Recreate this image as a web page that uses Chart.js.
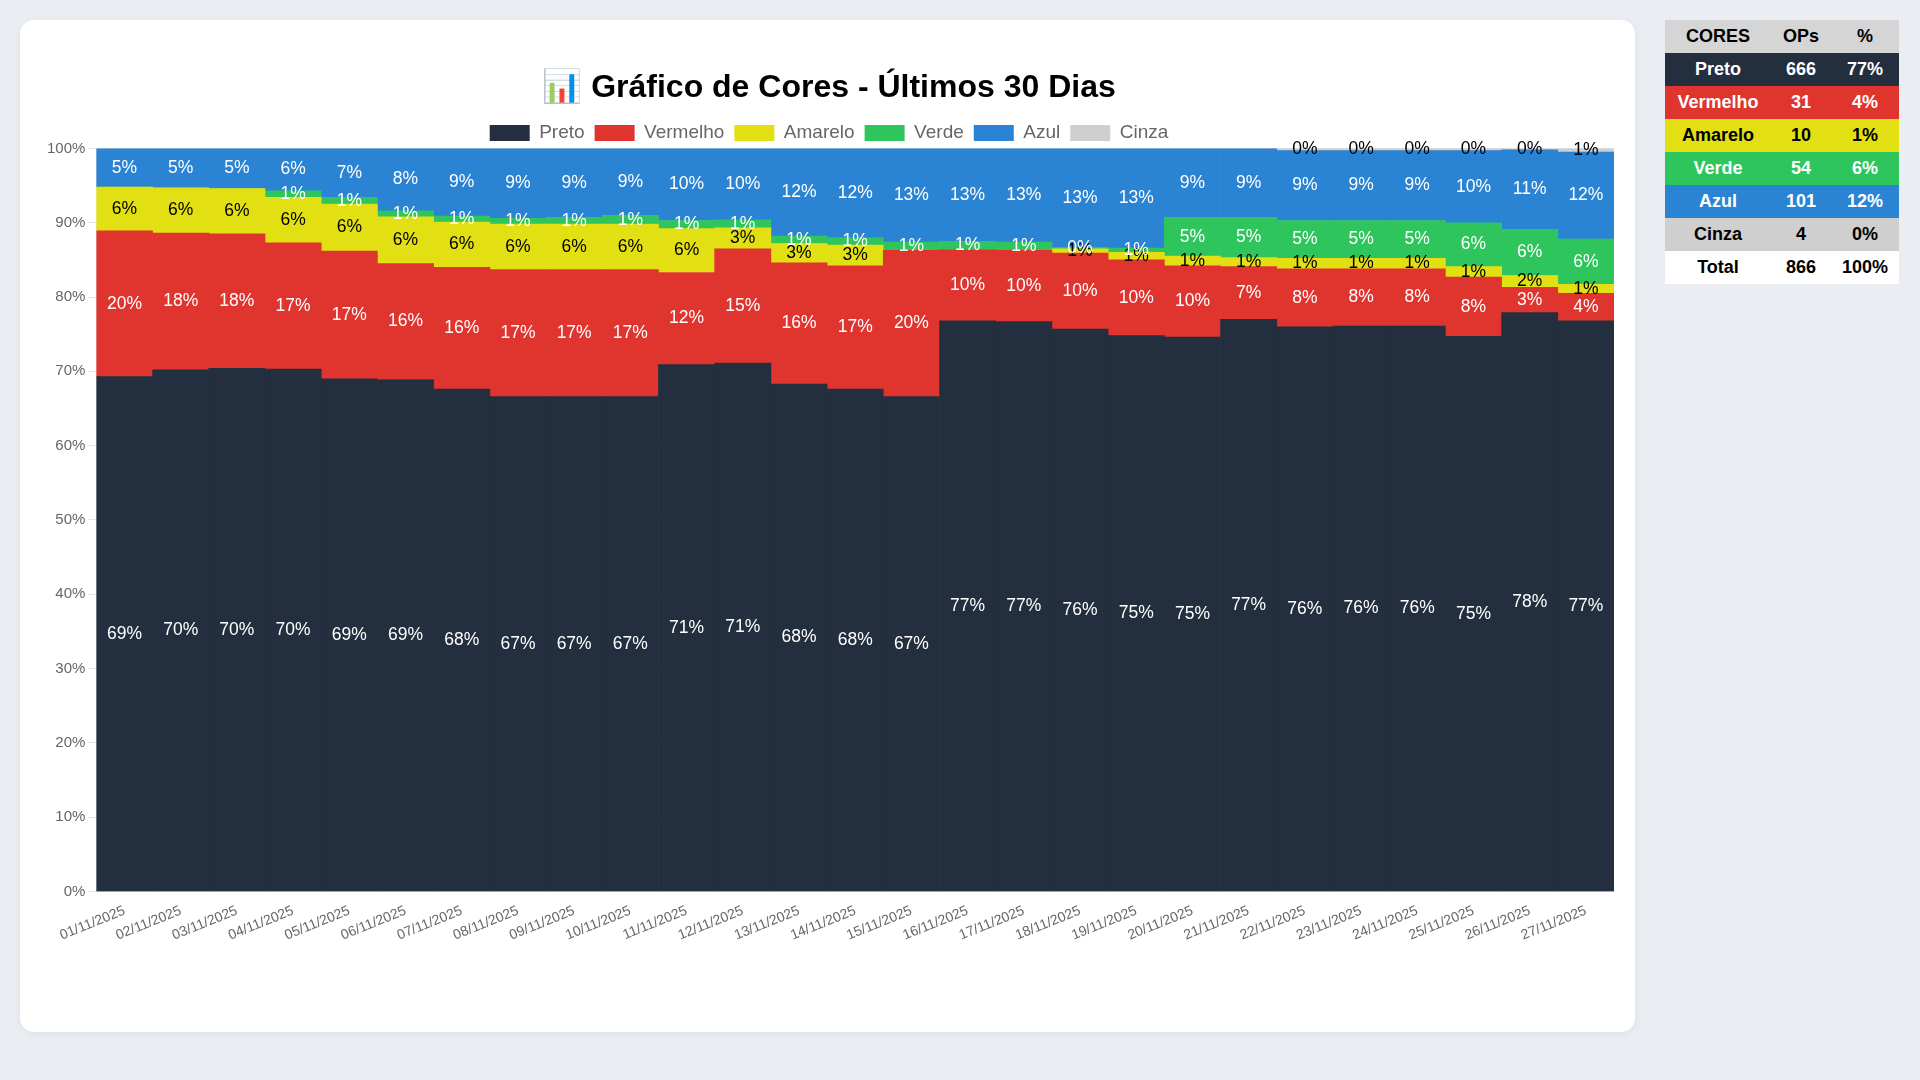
<!DOCTYPE html>
<html lang="pt-BR">
<head>
<meta charset="utf-8">
<title>Gráfico de Cores</title>
<script src="https://cdn.jsdelivr.net/npm/chart.js@4.4.1/dist/chart.umd.min.js"></script>
<style>
    body {
        margin: 0;
        width: 1920px;
        height: 1080px;
        background: #eaedf1;
        font-family: "Liberation Sans", Arial, sans-serif;
        position: relative;
        overflow: hidden;
    }
    .card {
        position: absolute;
        left: 20px;
        top: 20px;
        width: 1615px;
        height: 1012px;
        background: #fff;
        border-radius: 14px;
        box-shadow: 0 2px 8px rgba(0, 0, 0, 0.06);
    }
    .chart-box {
        position: absolute;
        left: 20px;
        top: 20px;
        width: 1575px;
        height: 940px;
    }
    .resumo {
        position: absolute;
        left: 1665px;
        top: 20px;
        width: 234px;
        border-collapse: collapse;
        font-weight: bold;
        font-size: 18px;
        text-align: center;
    }
    .resumo td, .resumo th {
        height: 33px;
        padding: 0;
    }
</style>
</head>
<body>
<div class="card">
    <div class="chart-box"><canvas id="coresChart"></canvas></div>
</div>
<table class="resumo" id="resumo"></table>

<script>
// dias do periodo
var dias = [
    "01/11/2025", "02/11/2025", "03/11/2025", "04/11/2025", "05/11/2025", "06/11/2025",
    "07/11/2025", "08/11/2025", "09/11/2025", "10/11/2025", "11/11/2025", "12/11/2025",
    "13/11/2025", "14/11/2025", "15/11/2025", "16/11/2025", "17/11/2025", "18/11/2025",
    "19/11/2025", "20/11/2025", "21/11/2025", "22/11/2025", "23/11/2025", "24/11/2025",
    "25/11/2025", "26/11/2025", "27/11/2025"
];

// % por dia de cada cor
var preto = [69.3, 70.2, 70.4, 70.3, 69.0, 68.9, 67.6, 66.6, 66.6, 66.6, 70.9, 71.1, 68.3, 67.6,
    66.6, 76.8, 76.7, 75.7, 74.8, 74.6, 77.0, 76.0, 76.1, 76.1, 74.7, 77.9, 76.8];
var vermelho = [19.6, 18.4, 18.1, 17.0, 17.2, 15.6, 16.4, 17.1, 17.1, 17.1, 12.4, 15.4, 16.3, 16.6,
    19.7, 9.6, 9.6, 10.2, 10.2, 9.6, 7.1, 7.8, 7.7, 7.7, 8.0, 3.4, 3.7];
var amarelo = [5.9, 6.1, 6.1, 6.1, 6.3, 6.3, 6.1, 6.1, 6.1, 6.1, 5.9, 2.8, 2.6, 2.8,
    0, 0, 0, 0.6, 1.0, 1.3, 1.2, 1.4, 1.4, 1.4, 1.4, 1.6, 1.2];
var verde = [0, 0, 0, 0.9, 0.9, 0.8, 0.8, 0.8, 0.9, 1.2, 1.1, 1.1, 1.0, 1.0,
    1.1, 1.1, 1.1, 0.2, 0.6, 5.2, 5.4, 5.1, 5.1, 5.1, 5.9, 6.2, 6.1];
var azul = [5.2, 5.3, 5.4, 5.7, 6.6, 8.4, 9.1, 9.4, 9.3, 9.0, 9.7, 9.6, 11.8, 12.0,
    12.6, 12.5, 12.6, 13.3, 13.4, 9.3, 9.3, 9.4, 9.4, 9.4, 9.7, 10.7, 11.7];
var cinza = [0, 0, 0, 0, 0, 0, 0, 0, 0, 0, 0, 0, 0, 0,
    0, 0, 0, 0, 0, 0, 0, 0.3, 0.3, 0.3, 0.3, 0.2, 0.5];

// totais da tabela
var nomesCores = ["Preto", "Vermelho", "Amarelo", "Verde", "Azul", "Cinza"];
var totalOps = [666, 31, 10, 54, 101, 4];

var corFundo = ["#232e3e", "#e0342f", "#e2e013", "#2dc55c", "#2b84d3", "#cfcfcf"];
var corTexto = ["#fff", "#fff", "#000", "#fff", "#fff", "#000"];

var series = [preto, vermelho, amarelo, verde, azul, cinza];

var fonte = "'Liberation Sans', Arial, sans-serif";

//rotulos de % dentro das barras
var rotulosPlugin = {
    id: "rotulos",
    afterDatasetsDraw(chart) {
        var ctx = chart.ctx;
        ctx.save();
        ctx.font = "17.5px " + fonte;
        ctx.textAlign = "center";
        ctx.textBaseline = "middle";
        chart.data.datasets.forEach((ds, i) => {
            var meta = chart.getDatasetMeta(i);
            meta.data.forEach((bar, j) => {
                var v = ds.data[j];
                if (!v) return;
                ctx.fillStyle = corTexto[i];
                ctx.fillText(Math.round(v) + "%", bar.x, (bar.y + bar.base) / 2);
            });
        });
        ctx.restore();
    }
};

var ctx = document.getElementById("coresChart").getContext("2d");

new Chart(ctx, {
    type: "bar",
    data: {
        labels: dias,
        datasets: nomesCores.map((nome, i) => ({
            label: nome,
            data: series[i],
            backgroundColor: corFundo[i],
            borderWidth: 0,
            categoryPercentage: 1.0,
            barPercentage: 1.0
        }))
    },
    options: {
        responsive: true,
        maintainAspectRatio: false,
        animation: false,
        layout: { padding: { left: 4, right: 1, bottom: 33 } },
        plugins: {
            tooltip: { enabled: false },
            title: {
                display: true,
                text: "📊 Gráfico de Cores - Últimos 30 Dias",
                color: "#000",
                font: { family: fonte, size: 32, weight: "bold" },
                padding: { top: 29, bottom: 6 }
            },
            legend: {
                display: true,
                maxHeight: 35,
                labels: {
                    color: "#666",
                    font: { family: fonte, size: 19 },
                    boxWidth: 40,
                    boxHeight: 16,
                    padding: 10
                }
            }
        },
        scales: {
            x: {
                stacked: true,
                grid: { display: false },
                ticks: {
                    color: "#666",
                    font: { family: fonte, size: 14 },
                    minRotation: 22,
                    maxRotation: 22,
                    autoSkip: false
                }
            },
            y: {
                stacked: true,
                min: 0,
                max: 100,
                ticks: {
                    stepSize: 10,
                    color: "#666",
                    font: { family: fonte, size: 15 },
                    callback: (v) => v + "%"
                }
            }
        }
    },
    plugins: [rotulosPlugin]
});

//tabela de resumo
var tabela = document.getElementById("resumo");
var soma = totalOps.reduce((a, b) => a + b, 0);
var html = `<tr style="background:#d5d5d5;color:#000"><th>CORES</th><th>OPs</th><th>%</th></tr>`;
nomesCores.forEach((nome, i) => {
    html += `<tr style="background:${corFundo[i]};color:${corTexto[i]}">
        <td style="width:106px">${nome}</td><td style="width:60px">${totalOps[i]}</td>
        <td>${Math.round(totalOps[i] / soma * 100)}%</td></tr>`;
});
html += `<tr style="background:#fff;color:#000"><td>Total</td><td>${soma}</td><td>100%</td></tr>`;
tabela.innerHTML = html;
</script>
</body>
</html>
